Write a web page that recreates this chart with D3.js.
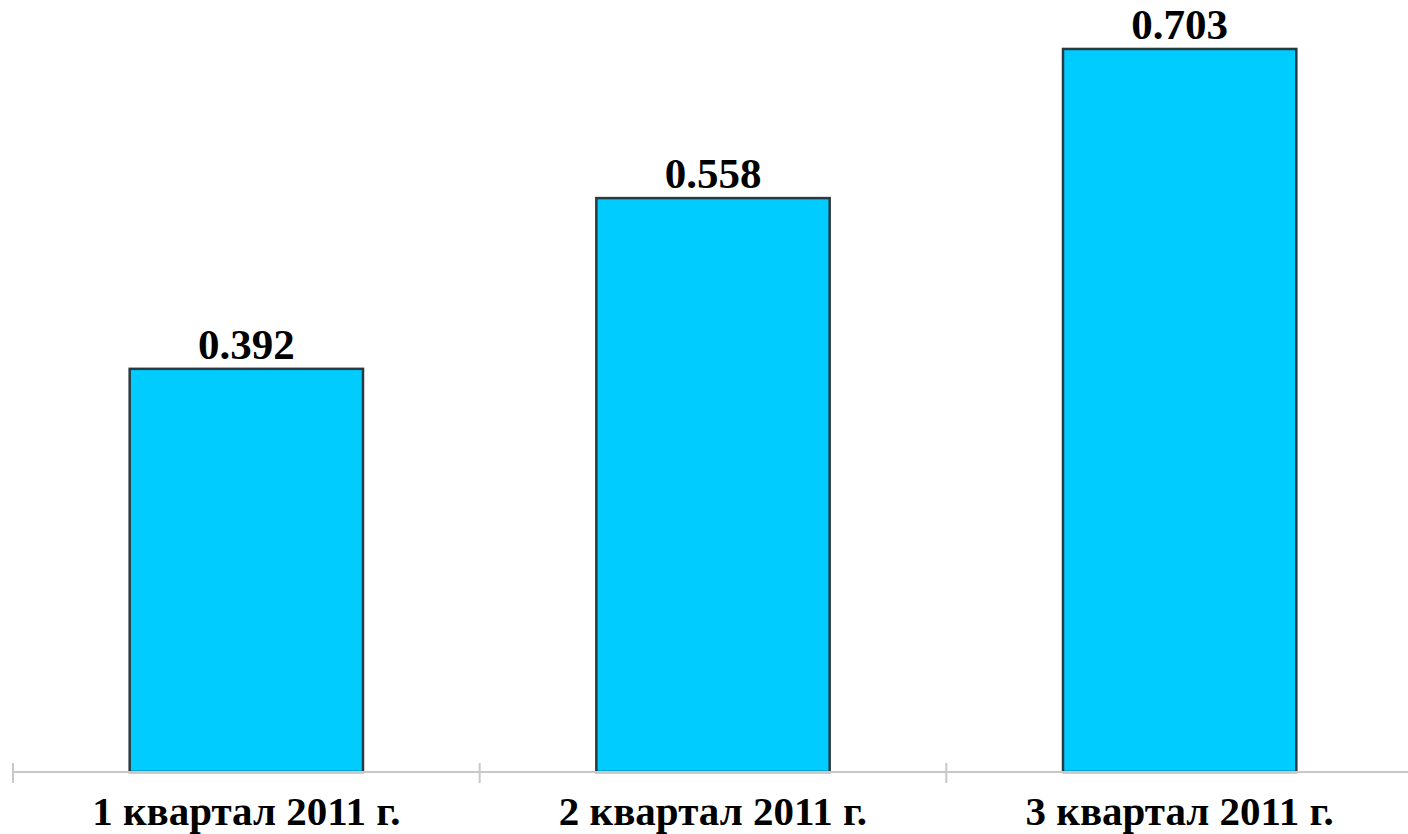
<!DOCTYPE html>
<html><head><meta charset="utf-8">
<script src="https://cdn.jsdelivr.net/npm/d3@7"></script>
<style>html,body{margin:0;padding:0;background:#fff;overflow:hidden}</style>
</head><body>
<svg id="c" width="1408" height="834"></svg>
<script>
const categories = ["1 квартал 2011 г.", "2 квартал 2011 г.", "3 квартал 2011 г."];
const values = [0.392, 0.558, 0.703];
const valueLabels = ["0.392", "0.558", "0.703"];

const svg = d3.select("#c");
const x = d3.scaleBand().domain(categories).range([13, 1413]).paddingInner(0).paddingOuter(0);
const y = d3.scaleLinear().domain([0, 0.75]).range([772, 772 - 0.75 * 1028.5]);
const bw = x.bandwidth() / 2;

svg.selectAll("rect.bar").data(values).join("rect")
  .attr("class", "bar")
  .attr("x", (d, i) => x(categories[i]) + x.bandwidth() / 2 - bw / 2)
  .attr("y", d => y(d))
  .attr("width", bw)
  .attr("height", d => y(0) - y(d))
  .attr("fill", "#00CCFF")
  .attr("stroke", "#2b3a40")
  .attr("stroke-width", 2.5);

svg.selectAll("text.val").data(values).join("text")
  .attr("class", "val")
  .attr("x", (d, i) => x(categories[i]) + x.bandwidth() / 2)
  .attr("y", d => y(d) - 10)
  .attr("text-anchor", "middle")
  .attr("font-family", "Liberation Serif, Times New Roman, serif")
  .attr("font-weight", "bold")
  .attr("font-size", 43)
  .attr("fill", "#000")
  .text((d, i) => valueLabels[i]);

// axis
const ax = svg.append("g").attr("transform", "translate(0,772)");
ax.append("line").attr("x1", 13).attr("x2", 1413).attr("stroke", "#c8c8c8").attr("stroke-width", 2);
const tickPos = categories.map(c => x(c)).concat([x.range()[1]]);
ax.selectAll("line.tick").data(tickPos).join("line")
  .attr("class", "tick")
  .attr("x1", d => d).attr("x2", d => d)
  .attr("y1", -9).attr("y2", 11)
  .attr("stroke", "#c8c8c8").attr("stroke-width", 2);

svg.selectAll("text.cat").data(categories).join("text")
  .attr("class", "cat")
  .attr("x", d => x(d) + x.bandwidth() / 2)
  .attr("y", 825)
  .attr("text-anchor", "middle")
  .attr("font-family", "Liberation Serif, Times New Roman, serif")
  .attr("font-weight", "bold")
  .attr("font-size", 41)
  .attr("fill", "#000")
  .text(d => d);
</script>
</body></html>
